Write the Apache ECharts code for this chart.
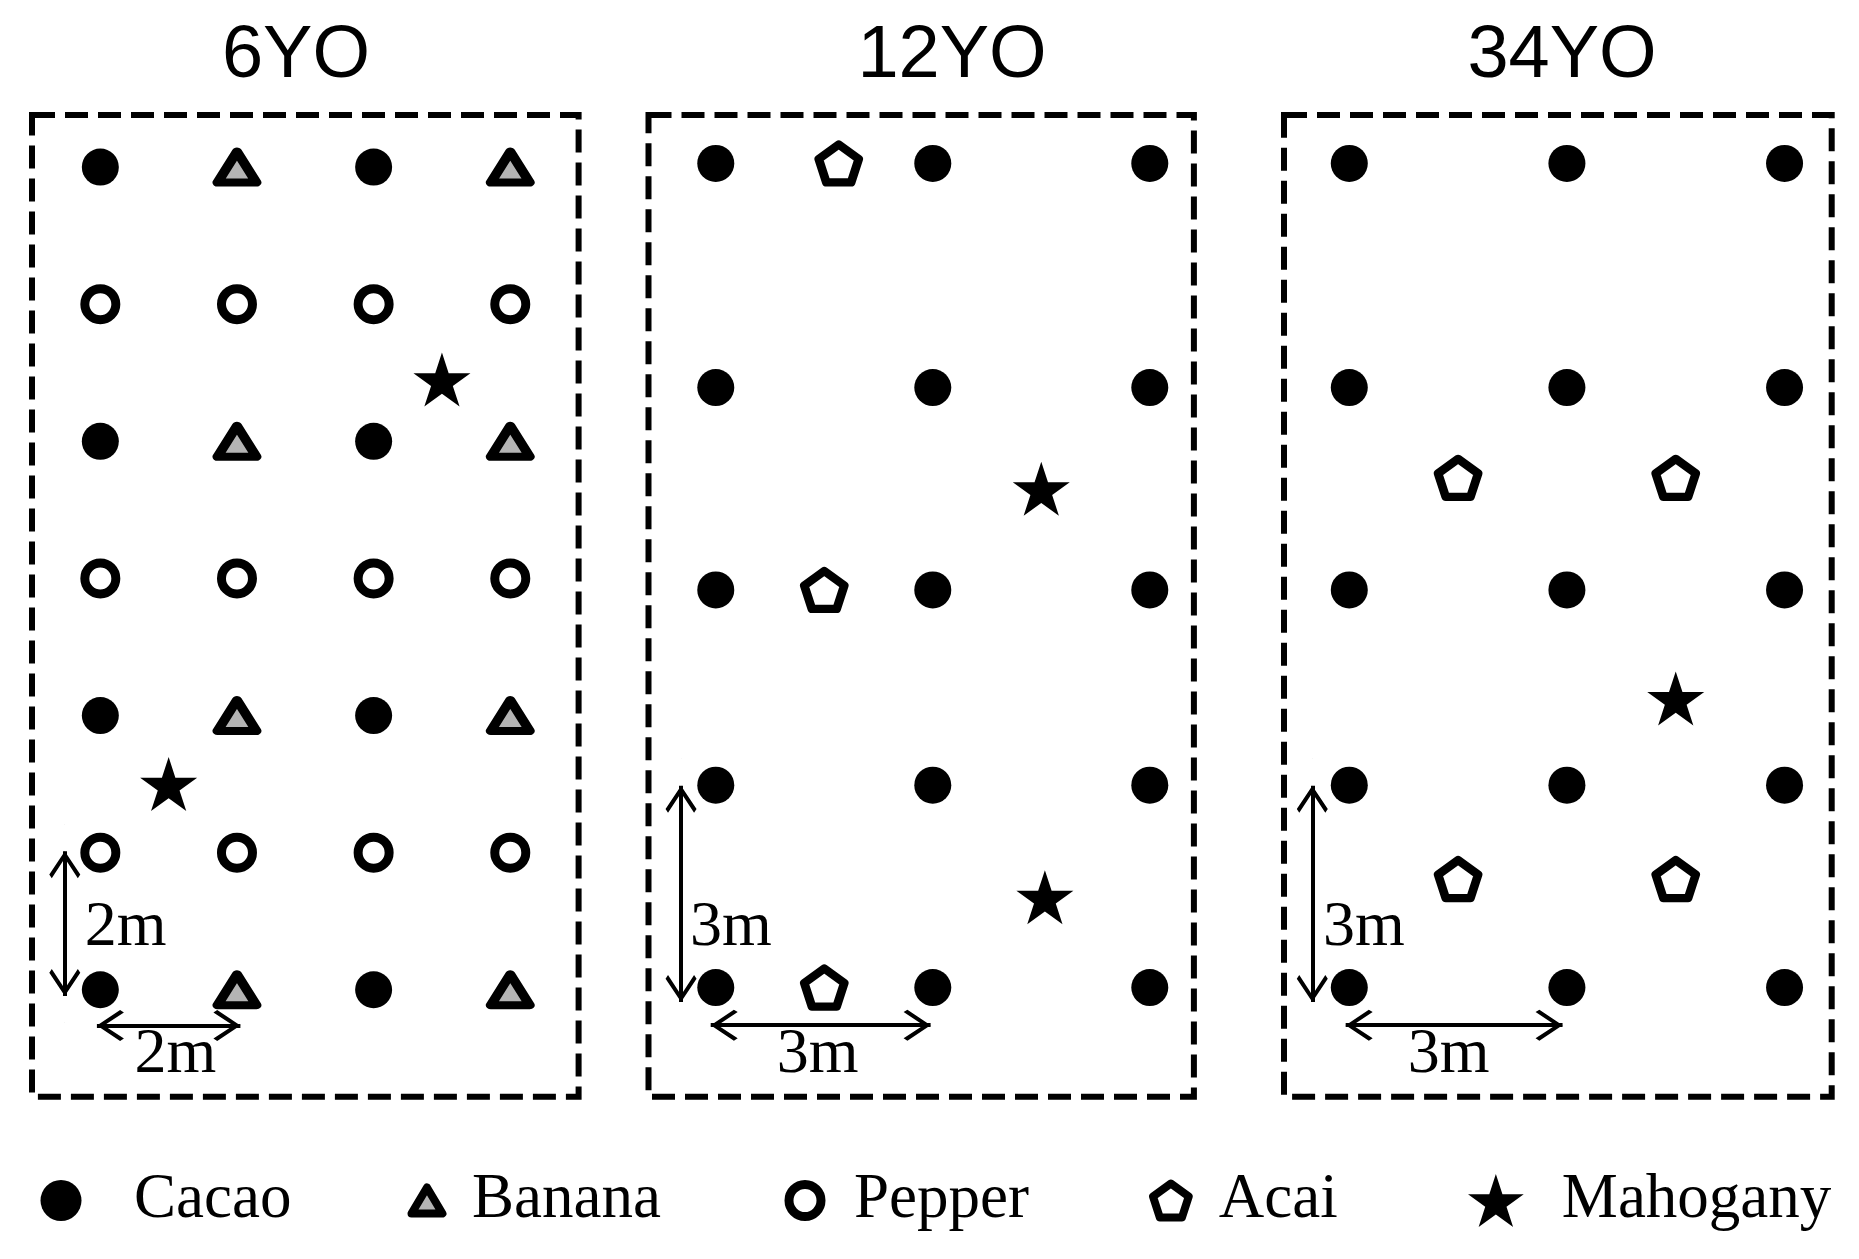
<!DOCTYPE html>
<html>
<head>
<meta charset="utf-8">
<title>Planting layouts</title>
<script src="https://cdn.jsdelivr.net/npm/echarts@6/dist/echarts.min.js"></script>
<style>
  html, body { margin: 0; padding: 0; background: #fff; }
  #chart { width: 1859px; height: 1259px; }
</style>
</head>
<body>
<div id="chart"></div>
<script>
// plot titles
const titles = ['6YO', '12YO', '34YO'];

// positions in metres, [x, y]; y = 0 is the bottom row of each plot
// 6YO plot (2 m spacing)
const cacao6 = [[0, 12], [4, 12], [0, 8], [4, 8], [0, 4], [4, 4], [0, 0], [4, 0]];
const banana6 = [[2, 12], [6, 12], [2, 8], [6, 8], [2, 4], [6, 4], [2, 0], [6, 0]];
const pepper6 = [[0, 10], [2, 10], [4, 10], [6, 10], [0, 6], [2, 6], [4, 6], [6, 6], [0, 2], [2, 2], [4, 2], [6, 2]];
const mahogany6 = [[5, 8.9], [1, 3]];

// 12YO plot (3 m spacing)
const cacao12 = [[0, 11.4], [3, 11.4], [6, 11.4], [0, 8.3], [3, 8.3], [6, 8.3], [0, 5.5], [3, 5.5], [6, 5.5],
  [0, 2.8], [3, 2.8], [6, 2.8], [0, 0], [3, 0], [6, 0]];
const acai12 = [[1.7, 11.4], [1.5, 5.5], [1.5, 0]];
const mahogany12 = [[4.5, 6.9], [4.55, 1.25]];

// 34YO plot (3 m spacing)
const cacao34 = [[0, 11.4], [3, 11.4], [6, 11.4], [0, 8.3], [3, 8.3], [6, 8.3], [0, 5.5], [3, 5.5], [6, 5.5],
  [0, 2.8], [3, 2.8], [6, 2.8], [0, 0], [3, 0], [6, 0]];
const acai34 = [[1.5, 7.05], [4.5, 7.05], [1.5, 1.5], [4.5, 1.5]];
const mahogany34 = [[4.5, 4.0]];

// spacing arrows [[from], [to]] and their labels [x, y, text]
const arrows6 = [[[-0.52, 2.02], [-0.52, -0.09]], [[-0.05, -0.52], [2.05, -0.52]]];
const arrows12 = [[[-0.48, 2.79], [-0.48, -0.2]], [[-0.07, -0.52], [2.97, -0.52]]];
const arrows34 = [[[-0.51, 2.79], [-0.51, -0.2]], [[-0.05, -0.52], [2.94, -0.52]]];
const labels6 = [[0.37, 0.9, '2m'], [1.1, -0.95, '2m']];
const labels12 = [[0.21, 0.82, '3m'], [1.41, -0.93, '3m']];
const labels34 = [[0.2, 0.82, '3m'], [1.37, -0.93, '3m']];

// extent of each plot (dashed border), metres
const xRange = [[-1, 7], [-0.93, 6.61], [-0.9, 6.65]];
const yRange = [[-1.56, 12.76], [-1.51, 12.07], [-1.51, 12.07]];

const species = ['Cacao', 'Banana', 'Pepper', 'Acai', 'Mahogany'];

// ---- layout ----
const panelLeft = [32, 648.5, 1284];
const panelWidth = [546.6, 545.4, 547.7];
const panelTop = 115;
const panelHeight = 981.7;
const titleX = [296, 952, 1562];

const STAR = 'path://M0,-100 L22.45,-30.9 L95.1,-30.9 L36.3,11.8 L58.8,80.9 L0,38.2 L-58.8,80.9 L-36.3,11.8 L-95.1,-30.9 L-22.45,-30.9 Z';
const PENTAGON = 'path://M0,-100 L95.1,-30.9 L58.8,80.9 L-58.8,80.9 L-95.1,-30.9 Z';
const TRIANGLE = 'path://M0,0 L100,168 L-100,168 Z';
// open arrow head, tip sits at the centre of the symbol box
const CHEVRON = 'path://M0,0 L100,85 L84,99 L0,26 L-84,99 L-100,85 Z M-1,-99 L1,-99 L0,-98.6 Z';

const styles = {
  Cacao: { symbol: 'circle', symbolSize: 37, itemStyle: { color: '#000', opacity: 1 } },
  Banana: { symbol: TRIANGLE, symbolSize: [39, 31], itemStyle: { color: '#b4b4b4', borderColor: '#000', borderWidth: 9, borderJoin: 'round', opacity: 1 } },
  Pepper: { symbol: 'circle', symbolSize: 31, itemStyle: { color: '#fff', borderColor: '#000', borderWidth: 9, opacity: 1 } },
  Acai: { symbol: PENTAGON, symbolSize: [40, 38], itemStyle: { color: '#fff', borderColor: '#000', borderWidth: 8.5, borderJoin: 'round', opacity: 1 } },
  Mahogany: { symbol: STAR, symbolSize: [57, 54], itemStyle: { color: '#000', opacity: 1 } }
};

const plots = [
  { Cacao: cacao6, Banana: banana6, Pepper: pepper6, Mahogany: mahogany6, arrows: arrows6, labels: labels6 },
  { Cacao: cacao12, Acai: acai12, Mahogany: mahogany12, arrows: arrows12, labels: labels12 },
  { Cacao: cacao34, Acai: acai34, Mahogany: mahogany34, arrows: arrows34, labels: labels34 }
];

const serif = '"Liberation Serif", "Times New Roman", serif';

const series = [];
plots.forEach((plot, i) => {
  species.forEach(name => {
    if (!plot[name]) return;
    series.push(Object.assign({
      type: 'scatter', name: name, data: plot[name],
      xAxisIndex: i, yAxisIndex: i, silent: true, z: 3
    }, styles[name]));
  });
  series.push({
    type: 'lines', coordinateSystem: 'cartesian2d', xAxisIndex: i, yAxisIndex: i, silent: true,
    symbol: [CHEVRON, CHEVRON], symbolSize: [[31, 54], [31, 54]],
    lineStyle: { color: '#000', width: 4, opacity: 1, curveness: 0 },
    data: plot.arrows.map(a => ({ coords: a }))
  });
  series.push({
    type: 'scatter', xAxisIndex: i, yAxisIndex: i, silent: true, symbolSize: 1,
    itemStyle: { color: 'rgba(0,0,0,0)', opacity: 1 },
    label: { show: true, position: 'inside', formatter: '{b}', color: '#000', opacity: 1, fontFamily: serif, fontSize: 64 },
    data: plot.labels.map(l => ({ name: l[2], value: [l[0], l[1]] }))
  });
});

// legend: one component per entry so each icon keeps its own size
// c = icon centre, t = text start, h = icon height, half = visible half width of the icon
const legendPos = [
  { name: 'Cacao', c: 61, t: 134, h: 41, half: 20.5, border: 0 },
  { name: 'Banana', c: 427, t: 472, h: 26, half: 19.5, border: 8 },
  { name: 'Pepper', c: 805, t: 854, h: 32, half: 20.5, border: 9 },
  { name: 'Acai', c: 1171, t: 1219, h: 34, half: 22, border: 8 },
  { name: 'Mahogany', c: 1496, t: 1562, h: 53, half: 28, border: 0 }
];
const legend = legendPos.map(l => ({
  data: [{ name: l.name, icon: styles[l.name].symbol, itemStyle: { borderWidth: l.border, borderJoin: 'round' } }],
  left: l.c - l.half, top: 1169, padding: 0,
  itemWidth: 2 * (l.t - 5 - l.c), itemHeight: l.h, symbolKeepAspect: true, selectedMode: false,
  textStyle: { fontFamily: serif, fontSize: 63, color: '#000' }
}));

const graphic = [];
titles.forEach((t, i) => {
  graphic.push({
    type: 'text', x: titleX[i], y: 57, silent: true,
    style: { text: t, font: '74px "Liberation Sans", Arial, sans-serif', fill: '#000',
      align: 'center', verticalAlign: 'middle', textAlign: 'center', textVerticalAlign: 'middle' }
  });
  graphic.push({
    type: 'rect', silent: true, z: -1,
    shape: { x: panelLeft[i], y: panelTop, width: panelWidth[i], height: panelHeight },
    style: { fill: 'none', stroke: '#000', lineWidth: 6, lineDash: [23, 10] }
  });
});

const option = {
  animation: false,
  backgroundColor: '#fff',
  graphic: graphic,
  legend: legend,
  grid: panelLeft.map((x, i) => ({ left: x, top: panelTop, width: panelWidth[i], height: panelHeight })),
  xAxis: xRange.map((r, i) => ({ type: 'value', gridIndex: i, min: r[0], max: r[1], show: false })),
  yAxis: yRange.map((r, i) => ({ type: 'value', gridIndex: i, min: r[0], max: r[1], show: false })),
  series: series
};

const chart = echarts.init(document.getElementById('chart'), null, { renderer: 'canvas' });
chart.setOption(option);
</script>
</body>
</html>
